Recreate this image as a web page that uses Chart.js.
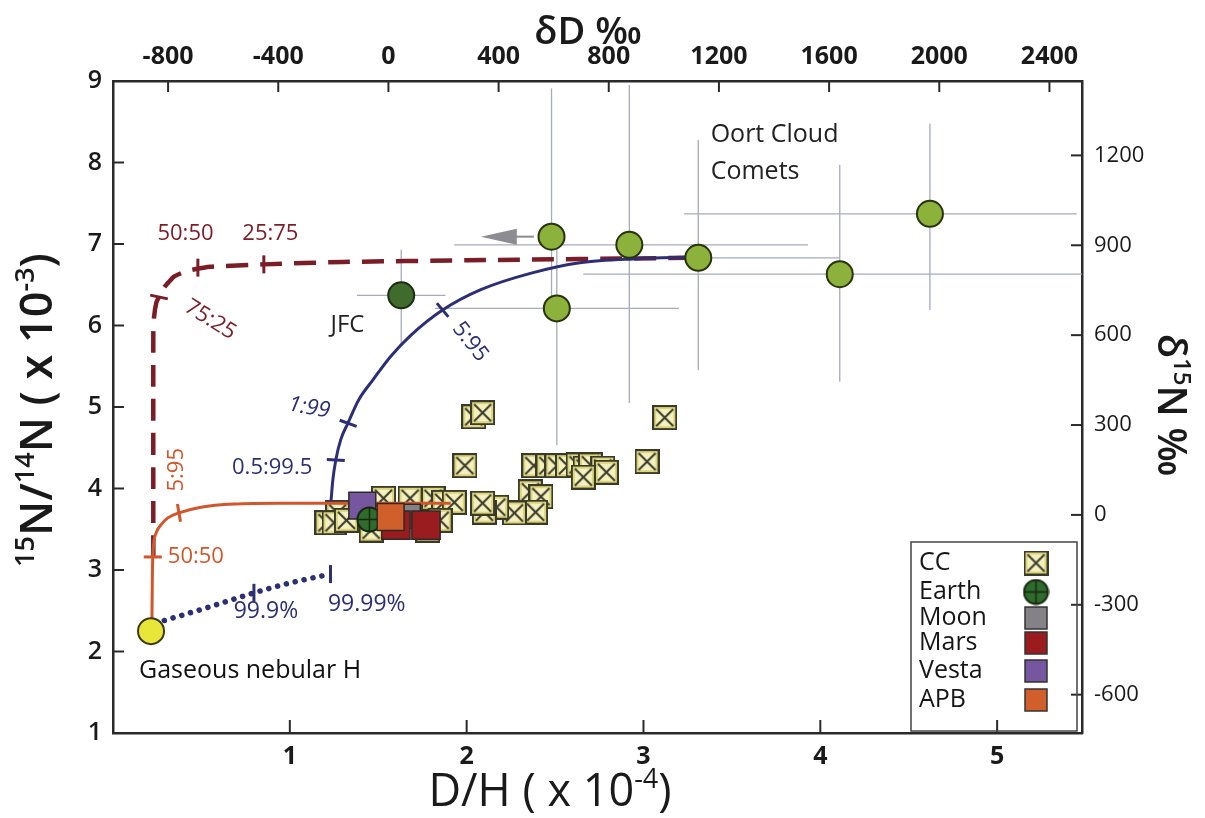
<!DOCTYPE html>
<html>
<head>
<meta charset="utf-8">
<script src="https://cdn.jsdelivr.net/npm/chart.js@4.4.0/dist/chart.umd.min.js"></script>
<style>
  html, body { margin: 0; background: #fff; }
</style>
</head>
<body>
<canvas id="c" width="1205" height="818"></canvas>
<script>
// ---- data (D/H in 1e-4, 15N/14N in 1e-3) ----
const VSMOW = 1.5576, AIR = 3.676;
const dDTicks = [-800, -400, 0, 400, 800, 1200, 1600, 2000, 2400];
const d15NTicks = [-600, -300, 0, 300, 600, 900, 1200];
const dhTicks = [1, 2, 3, 4, 5];

const nebX = [0.215], nebY = [2.25];

const cometX = [2.48, 2.51, 2.92, 3.31, 4.11, 4.62];
const cometY = [7.09, 6.21, 6.99, 6.83, 6.63, 7.37];
const cometXLo = [null, 1.82, 1.93, 2.90, 2.66, 3.23];
const cometXHi = [null, 3.20, 3.93, 4.11, 5.48, 5.45];
const cometYLo = [6.31, 4.53, 5.05, 5.45, 5.31, 6.19];
const cometYHi = [8.91, 7.09, 8.95, 8.28, 7.97, 8.48];
// upper-limit arrow on the first comet
const arrowX = [2.38, 2.08], arrowY = [7.09, 7.09];

const jfcX = [1.63], jfcY = [6.37];
const jfcXLo = [1.38], jfcXHi = [1.88], jfcYLo = [5.76], jfcYHi = [6.93];

const ccX = [2.04, 2.09, 3.12, 1.99, 3.02,
             2.38, 2.46, 2.51, 2.57, 2.63, 2.67, 2.70, 2.77, 2.79, 2.66,
             2.36, 2.42, 2.39, 2.27, 2.17, 2.10, 2.09,
             1.81, 1.87, 1.93, 1.53, 1.68, 1.78, 1.46, 1.85,
             1.21, 1.27, 1.25, 1.32];
const ccY = [4.88, 4.93, 4.87, 4.28, 4.33,
             4.28, 4.28, 4.28, 4.28, 4.29, 4.25, 4.29, 4.25, 4.20, 4.14,
             3.96, 3.90, 3.71, 3.70, 3.77, 3.71, 3.82,
             3.88, 3.83, 3.83, 3.88, 3.88, 3.49, 3.49, 3.61,
             3.58, 3.70, 3.58, 3.61];

const earthX = [1.45], earthY = [3.62];
const moonX = [1.67], moonY = [3.66];
const marsX = [1.60, 1.77], marsY = [3.55, 3.55];
const vestaX = [1.41], vestaY = [3.79];
const apbX = [1.57], apbY = [3.65];

// mixing curves
const orangeX = [0.22, 0.222, 0.225, 0.243, 0.27, 0.31, 0.373, 0.497, 0.684, 0.95, 1.23, 1.6, 1.91];
const orangeY = [2.30, 2.80, 3.16, 3.45, 3.55, 3.64, 3.70, 3.77, 3.81, 3.82, 3.82, 3.82, 3.82];
const redX = [0.228, 0.228, 0.232, 0.245, 0.26, 0.29, 0.345, 0.42, 0.55, 0.853, 1.3, 2.0, 3.27];
const redY = [3.16, 5.90, 6.10, 6.28, 6.35, 6.47, 6.60, 6.67, 6.72, 6.75, 6.78, 6.80, 6.83];
const navyX = [1.232, 1.243, 1.26, 1.288, 1.328, 1.39, 1.469, 1.57, 1.684, 1.864, 2.08, 2.36, 2.64, 2.97, 3.27];
const navyY = [3.82, 4.10, 4.35, 4.60, 4.80, 5.09, 5.33, 5.62, 5.88, 6.19, 6.44, 6.64, 6.77, 6.82, 6.84];
const dotX = [0.29, 0.55, 0.797, 1.0, 1.23];
const dotY = [2.38, 2.55, 2.72, 2.84, 2.95];

// mixing-ratio tick marks on the curves
const markX = [0.48, 0.853, 0.26, 0.225, 0.373, 1.26, 1.33, 1.864, 0.797, 1.23];
const markY = [6.71, 6.75, 6.35, 3.16, 3.70, 4.35, 4.80, 6.19, 2.72, 2.95];
const markAngle = [90, 90, 12, 0, 80, 3, 20, 50, 90, 90];

const RED = '#7a1d26', NAVY = '#2d2f74', ORANGE = '#d2562b';
const markColor = [RED, RED, RED, ORANGE, ORANGE, NAVY, NAVY, NAVY, NAVY, NAVY];

const notes = [
  { t: 'Oort Cloud', x: 3.38, y: 8.34, c: '#222', s: 25, a: 'left' },
  { t: 'Comets', x: 3.38, y: 7.88, c: '#222', s: 25, a: 'left' },
  { t: 'JFC', x: 1.23, y: 6.01, c: '#222', s: 24, a: 'left' },
  { t: 'Gaseous nebular H', x: 0.147, y: 1.76, c: '#111', s: 25, a: 'left' },
  { t: '50:50', x: 0.41, y: 7.13, c: RED, s: 22 },
  { t: '25:75', x: 0.89, y: 7.13, c: RED, s: 22 },
  { t: '75:25', x: 0.55, y: 6.07, c: RED, s: 22, r: 32 },
  { t: '1:99', x: 1.11, y: 4.99, c: NAVY, s: 22, r: 10, it: true },
  { t: '0.5:99.5', x: 0.90, y: 4.26, c: NAVY, s: 22 },
  { t: '5:95', x: 2.02, y: 5.80, c: NAVY, s: 22, r: 52 },
  { t: '99.9%', x: 0.865, y: 2.49, c: NAVY, s: 23 },
  { t: '99.99%', x: 1.435, y: 2.58, c: NAVY, s: 23 },
  { t: '5:95', x: 0.36, y: 4.23, c: ORANGE, s: 22, r: -90 },
  { t: '50:50', x: 0.31, y: 3.16, c: ORANGE, s: 22, a: 'left' }
];

const FONT = '"Open Sans", sans-serif';
const NARROW = '"Liberation Sans Narrow", "Open Sans", sans-serif';

function pts(xs, ys) { return xs.map((x, i) => ({ x: x, y: ys[i] })); }

// point images
function makeCC(n) {
  const c = document.createElement('canvas'); c.width = c.height = n;
  const g = c.getContext('2d');
  g.fillStyle = '#dcd57c'; g.fillRect(1, 1, n - 2, n - 2);
  g.fillStyle = '#f4f1bf'; g.fillRect(4, 4, n - 8, n - 8);
  g.strokeStyle = '#3a3a2a'; g.lineWidth = 2; g.strokeRect(1, 1, n - 2, n - 2);
  g.beginPath(); g.moveTo(4, 4); g.lineTo(n - 4, n - 4); g.moveTo(n - 4, 4); g.lineTo(4, n - 4); g.stroke();
  return c;
}
function makeEarth(n) {
  const c = document.createElement('canvas'); c.width = c.height = n;
  const g = c.getContext('2d'); const r = n / 2 - 1.5;
  g.beginPath(); g.arc(n / 2, n / 2, r, 0, Math.PI * 2);
  g.fillStyle = '#2f6b2d'; g.fill(); g.strokeStyle = '#17260f'; g.lineWidth = 2; g.stroke();
  g.lineWidth = 1.4; g.beginPath();
  g.moveTo(n / 2, n / 2 - r); g.lineTo(n / 2, n / 2 + r); g.moveTo(n / 2 - r, n / 2); g.lineTo(n / 2 + r, n / 2); g.stroke();
  return c;
}
const ccImg = makeCC(25), earthImg = makeEarth(27);

function rich(ctx, parts, cx, cy, rot, size, weight, color) {
  ctx.save();
  ctx.translate(cx, cy); ctx.rotate(rot * Math.PI / 180);
  ctx.fillStyle = color; ctx.textBaseline = 'alphabetic';
  const fonts = parts.map(p => weight + ' ' + (p[1] ? Math.round(size * 0.6) : size) + 'px ' + FONT);
  let w = 0;
  parts.forEach((p, i) => { ctx.font = fonts[i]; w += ctx.measureText(p[0]).width; });
  let x = -w / 2; const base = size * 0.36;
  parts.forEach((p, i) => {
    ctx.font = fonts[i];
    ctx.fillText(p[0], x, p[1] ? base - size * 0.4 : base);
    x += ctx.measureText(p[0]).width;
  });
  ctx.restore();
}

function line(ctx, x1, y1, x2, y2) { ctx.beginPath(); ctx.moveTo(x1, y1); ctx.lineTo(x2, y2); ctx.stroke(); }

const figure = {
  id: 'figure',
  beforeDraw(chart) {
    const ctx = chart.ctx;
    ctx.save(); ctx.fillStyle = '#fff'; ctx.fillRect(0, 0, chart.width, chart.height); ctx.restore();
  },
  beforeDatasetsDraw(chart) {
    const ctx = chart.ctx, sx = chart.scales.x, sy = chart.scales.y;
    ctx.save();
    ctx.strokeStyle = '#a7abbb'; ctx.lineWidth = 1.3;
    const bars = (X, Y, xl, xh, yl, yh) => X.forEach((x, i) => {
      const px = sx.getPixelForValue(x), py = sy.getPixelForValue(Y[i]);
      if (xl[i] != null) line(ctx, sx.getPixelForValue(xl[i]), py, sx.getPixelForValue(xh[i]), py);
      if (yl[i] != null) line(ctx, px, sy.getPixelForValue(yl[i]), px, sy.getPixelForValue(yh[i]));
    });
    bars(cometX, cometY, cometXLo, cometXHi, cometYLo, cometYHi);
    bars(jfcX, jfcY, jfcXLo, jfcXHi, jfcYLo, jfcYHi);
    // arrow
    const ax1 = sx.getPixelForValue(arrowX[0]), ax2 = sx.getPixelForValue(arrowX[1]);
    const ay = sy.getPixelForValue(arrowY[0]);
    ctx.strokeStyle = '#8c8c92'; ctx.lineWidth = 2; line(ctx, ax1, ay, ax2 + 30, ay);
    ctx.fillStyle = '#8c8c92';
    ctx.beginPath(); ctx.moveTo(ax2, ay); ctx.lineTo(ax2 + 36, ay - 8); ctx.lineTo(ax2 + 36, ay + 8); ctx.closePath(); ctx.fill();
    ctx.restore();
  },
  afterDraw(chart) {
    const ctx = chart.ctx, a = chart.chartArea;
    const sx = chart.scales.x, sy = chart.scales.y, sx2 = chart.scales.x2, sy2 = chart.scales.y2;
    ctx.save();
    // inward ticks
    ctx.strokeStyle = '#2a2a2a'; ctx.lineWidth = 2;
    sy.ticks.forEach(t => { const p = sy.getPixelForValue(t.value); line(ctx, a.left, p, a.left + 11, p); });
    sy2.ticks.forEach(t => { const p = sy2.getPixelForValue(t.value); line(ctx, a.right, p, a.right - 11, p); });
    sx.ticks.forEach(t => { const p = sx.getPixelForValue(t.value); line(ctx, p, a.bottom, p, a.bottom - 13); });
    sx2.ticks.forEach(t => { const p = sx2.getPixelForValue(t.value); line(ctx, p, a.top, p, a.top + 11); });

    // annotations
    notes.forEach(n => {
      ctx.save();
      ctx.translate(sx.getPixelForValue(n.x), sy.getPixelForValue(n.y));
      if (n.r) ctx.rotate(n.r * Math.PI / 180);
      ctx.font = (n.it ? 'italic ' : '') + n.s + 'px ' + FONT;
      ctx.fillStyle = n.c; ctx.textAlign = n.a || 'center'; ctx.textBaseline = 'middle';
      ctx.fillText(n.t, 0, 0);
      ctx.restore();
    });

    // axis titles
    rich(ctx, [['15', 1], ['N/', 0], ['14', 1], ['N ( x 10', 0], ['-3', 1], [')', 0]], 36, 410, -90, 45, 600, '#1a1a1a');
    rich(ctx, [['D/H ( x 10', 0], ['-4', 1], [')', 0]], 550, 790, 0, 45, 500, '#1a1a1a');
    rich(ctx, [['\u03B4D \u2030', 0]], 588, 30, 0, 38, 600, '#1a1a1a');
    rich(ctx, [['\u03B4', 0], ['15', 1], ['N \u2030', 0]], 1172, 405, 90, 40, 600, '#1a1a1a');

    // legend
    const L = { l: 911, t: 542, r: 1077, b: 731 };
    ctx.strokeStyle = '#444'; ctx.lineWidth = 1.5;
    ctx.strokeRect(L.l, L.t, L.r - L.l, L.b - L.t);
    const items = [
      ['CC', 563, 'cc'], ['Earth', 592, 'earth'], ['Moon', 618, '#858287'],
      ['Mars', 643, '#9a1c1e'], ['Vesta', 671, '#76569f'], ['APB', 700, '#d15f2c']
    ];
    ctx.font = '500 25px ' + FONT; ctx.textAlign = 'left'; ctx.textBaseline = 'middle';
    items.forEach(it => {
      ctx.fillStyle = '#161616'; ctx.fillText(it[0], 919, it[1]);
      const cx = 1036, cy = it[1];
      if (it[2] === 'cc') ctx.drawImage(ccImg, cx - 12.5, cy - 12.5);
      else if (it[2] === 'earth') ctx.drawImage(earthImg, cx - 13.5, cy - 13.5);
      else {
        ctx.fillStyle = it[2]; ctx.fillRect(cx - 11, cy - 11, 22, 22);
        ctx.strokeStyle = '#333'; ctx.lineWidth = 1.5; ctx.strokeRect(cx - 11, cy - 11, 22, 22);
      }
    });
    ctx.restore();
  }
};

const square = (label, xs, ys, color, r, order) => ({
  label: label, data: pts(xs, ys), order: order,
  pointStyle: 'rect', pointRadius: r, pointHoverRadius: r,
  backgroundColor: color, borderColor: '#2e2a26', pointBorderWidth: 1.5
});
const curve = (label, xs, ys, color, w, extra) => Object.assign({
  label: label, data: pts(xs, ys), order: 7, showLine: true,
  borderColor: color, borderWidth: w, pointRadius: 0, pointHoverRadius: 0, fill: false,
  cubicInterpolationMode: 'monotone'
}, extra || {});

const axisBorder = { display: true, color: '#2a2a2a', width: 2.5 };

new Chart(document.getElementById('c'), {
  type: 'scatter',
  data: {
    datasets: [
      {
        label: 'ticks', data: pts(markX, markY), order: 0, pointStyle: 'line',
        pointRadius: 9, pointHoverRadius: 9, pointRotation: markAngle,
        borderColor: markColor, pointBorderWidth: 3, backgroundColor: markColor
      },
      {
        label: 'Gaseous nebular H', data: pts(nebX, nebY), order: 1, pointRadius: 13, pointHoverRadius: 13,
        backgroundColor: '#e9e63a', borderColor: '#3c3a12', pointBorderWidth: 2
      },
      {
        label: 'Oort Cloud Comets', data: pts(cometX, cometY), order: 1, pointRadius: 13, pointHoverRadius: 13,
        backgroundColor: '#8db23b', borderColor: '#28330f', pointBorderWidth: 2
      },
      {
        label: 'JFC', data: pts(jfcX, jfcY), order: 1, pointRadius: 13, pointHoverRadius: 13,
        backgroundColor: '#3f6c2c', borderColor: '#1b2c12', pointBorderWidth: 2
      },
      square('APB', apbX, apbY, '#d15f2c', 19, 2),
      square('Mars', marsX, marsY, '#9a1c1e', 20, 3),
      {
        label: 'Earth', data: pts(earthX, earthY), order: 4, pointStyle: earthImg, pointRadius: 13
      },
      square('Vesta', vestaX, vestaY, '#76569f', 19, 5),
      square('Moon', moonX, moonY, '#858287', 17, 6),
      curve('nebula-APB', orangeX, orangeY, ORANGE, 3),
      curve('JFC mix', navyX, navyY, NAVY, 3),
      curve('comet mix', redX, redY, RED, 4.5, { borderDash: [22, 12], cubicInterpolationMode: 'default', tension: 0.15 }),
      curve('nebula-CC', dotX, dotY, NAVY, 5.5, { borderDash: [0.1, 9], borderCapStyle: 'round' }),
      {
        label: 'CC', data: pts(ccX, ccY), order: 8, pointStyle: ccImg, pointRadius: 12
      }
    ]
  },
  options: {
    responsive: false,
    animation: false,
    events: [],
    layout: { padding: 0 },
    plugins: { legend: { display: false }, tooltip: { enabled: false } },
    scales: {
      x: {
        type: 'linear', position: 'bottom', min: 0, max: 5.48,
        afterFit: s => { s.height = 85; },
        afterBuildTicks: s => { s.ticks = dhTicks.map(v => ({ value: v })); },
        grid: { display: false, drawTicks: false }, border: axisBorder,
        ticks: { padding: 9, autoSkip: false, maxRotation: 0, color: '#1a1a1a',
                 font: { family: NARROW, size: 25, weight: 'bold' }, callback: v => String(v) }
      },
      x2: {
        type: 'linear', position: 'top', min: 0, max: 5.48,
        afterFit: s => { s.height = 81; },
        afterBuildTicks: s => { s.ticks = dDTicks.map(d => ({ value: VSMOW * (1 + d / 1000) })); },
        grid: { display: false, drawTicks: false }, border: axisBorder,
        ticks: { padding: 9, autoSkip: false, maxRotation: 0, color: '#1a1a1a',
                 font: { family: NARROW, size: 25, weight: 'bold' }, callback: (v, i) => String(dDTicks[i]) }
      },
      y: {
        type: 'linear', position: 'left', min: 1, max: 9,
        afterFit: s => { s.width = 113; },
        grid: { display: false, drawTicks: false }, border: axisBorder,
        ticks: { stepSize: 1, padding: 11, color: '#1a1a1a', font: { family: FONT, size: 25, weight: '600' } }
      },
      y2: {
        type: 'linear', position: 'right', min: 1, max: 9,
        afterFit: s => { s.width = 123; },
        afterBuildTicks: s => { s.ticks = d15NTicks.map(d => ({ value: AIR * (1 + d / 1000) })); },
        grid: { display: false, drawTicks: false }, border: axisBorder,
        ticks: { padding: 12, autoSkip: false, color: '#1a1a1a',
                 font: { family: FONT, size: 22 }, callback: (v, i) => String(d15NTicks[i]) }
      }
    }
  },
  plugins: [figure]
});
</script>
</body>
</html>
